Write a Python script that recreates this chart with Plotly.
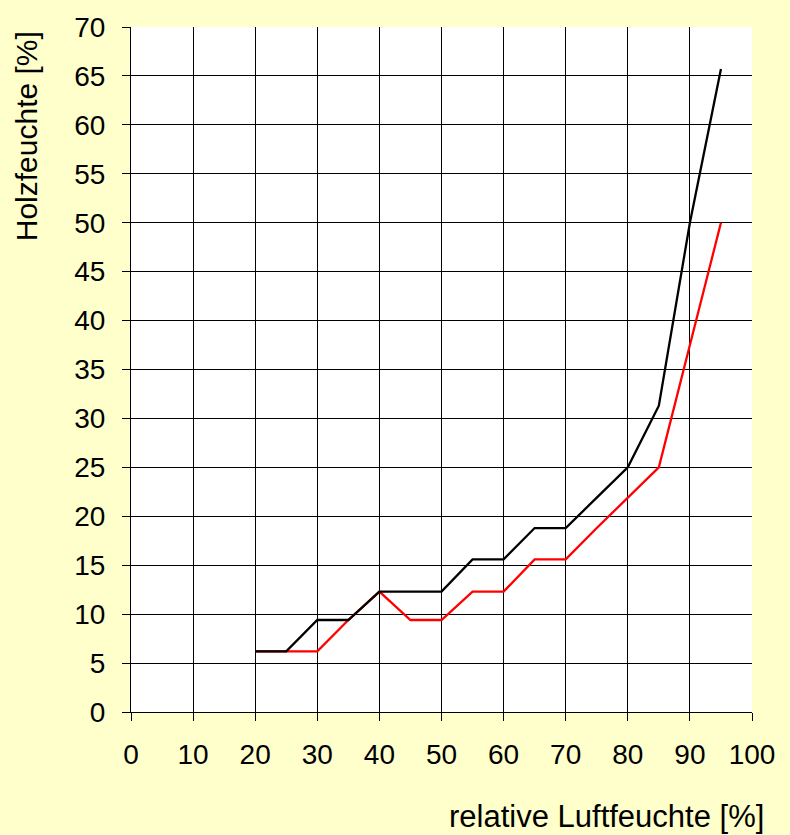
import plotly.graph_objects as go

x_vals = [20, 25, 30, 35, 40, 45, 50, 55, 60, 65, 70, 75, 80, 85, 90, 95]
black_vals = [6.2, 6.2, 9.4, 9.4, 12.3, 12.3, 12.3, 15.6, 15.6, 18.8, 18.8, 21.9, 25.0, 31.3, 50.0, 65.7]
red_vals = [6.2, 6.2, 6.2, 9.4, 12.3, 9.4, 9.4, 12.3, 12.3, 15.6, 15.6, 18.8, 21.9, 25.0, 37.5, 50.0]
x_title = "relative Luftfeuchte [%]"
y_title = "Holzfeuchte [%]"

fam = "Liberation Sans, Arial, sans-serif"
font = dict(family=fam, size=28, color="black")

fig = go.Figure()
fig.add_trace(go.Scatter(x=x_vals, y=red_vals, mode="lines",
                         line=dict(color="#ff0000", width=2.3), showlegend=False))
fig.add_trace(go.Scatter(x=x_vals, y=black_vals, mode="lines",
                         line=dict(color="#000000", width=2.3), showlegend=False))

fig.update_layout(
    width=790, height=835,
    paper_bgcolor="#ffffcc", plot_bgcolor="#ffffff",
    margin=dict(l=131, r=38, t=25, b=123),
    font=font,
    xaxis=dict(range=[0, 100], tickvals=list(range(0, 101, 10)), showgrid=True,
               gridcolor="black", gridwidth=1, ticks="outside", ticklen=8,
               tickcolor="black", showline=True, linecolor="black", linewidth=1,
               zeroline=False, ticklabelstandoff=9, tickfont=font),
    yaxis=dict(range=[0, 70], tickvals=list(range(0, 71, 5)), showgrid=True,
               gridcolor="black", gridwidth=1, ticks="outside", ticklen=8,
               tickcolor="black", showline=True, linecolor="black", linewidth=1,
               zeroline=False, ticklabelstandoff=11, tickfont=font),
    annotations=[
        dict(text=x_title, xref="paper", yref="paper", x=1.022, y=-0.153,
             xanchor="right", yanchor="middle", showarrow=False,
             font=dict(family=fam, size=31, color="black")),
        dict(text=y_title, xref="paper", yref="paper", x=-0.168, y=0.84,
             xanchor="center", yanchor="middle", textangle=-90, showarrow=False,
             font=dict(family=fam, size=30, color="black")),
    ],
)

fig.write_html("out.html", config={"displayModeBar": False},
               post_script="document.body.style.margin='0';")
